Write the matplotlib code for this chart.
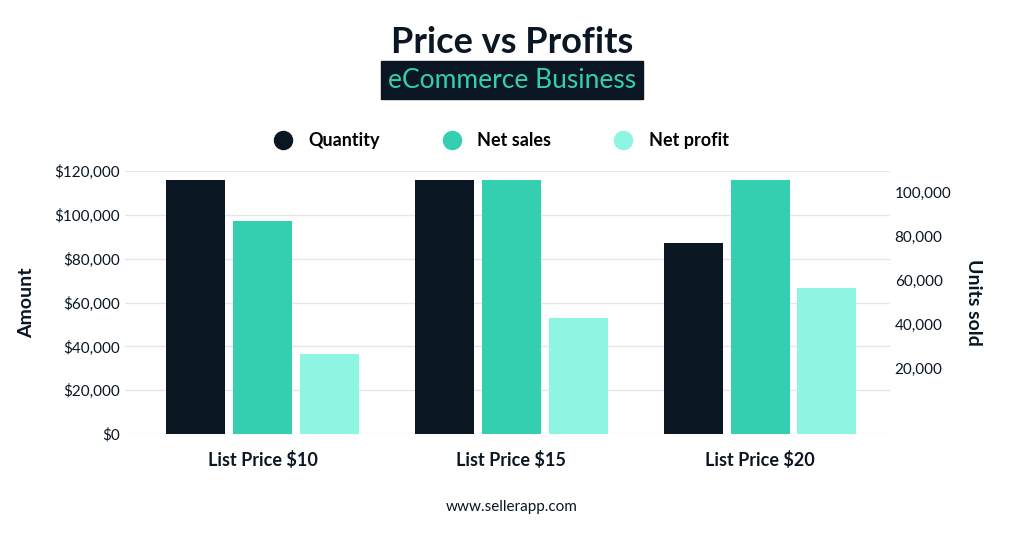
import matplotlib
matplotlib.use("Agg")
import matplotlib.pyplot as plt
from matplotlib.lines import Line2D
import numpy as np

categories = ["List Price $10", "List Price $15", "List Price $20"]
quantity = [105500, 105500, 76800]
net_sales = [97000, 116000, 116000]
net_profit = [36500, 53000, 66500]
left_ticks = [0, 20000, 40000, 60000, 80000, 100000, 120000]
right_ticks = [20000, 40000, 60000, 80000, 100000]

plt.rcParams["font.family"] = "Lato"
dark, green, light = "#0b1623", "#34cfb0", "#8ef5e3"
fig = plt.figure(figsize=(10.24, 5.36), dpi=100)
ax = fig.add_axes([0.122, 0.19, 0.747, 0.491])
ax2 = ax.twinx()
x = np.arange(len(categories))
w, off = 0.237, 0.269
ax.set_ylim(0, 120000)
ax2.set_ylim(-10000, 109545)
base = ax2.get_ylim()[0]
ax2.bar(x - off, [q - base for q in quantity], w, bottom=base, color=dark, zorder=3)
ax.bar(x, net_sales, w, color=green, zorder=3)
ax.bar(x + off, net_profit, w, color=light, zorder=3)
ax.set_xlim(-0.554, 2.522)
ax.set_yticks(left_ticks)
ax.set_yticklabels([f"${v:,}" for v in left_ticks], fontsize=11, color=dark)
ax2.set_yticks(right_ticks)
ax2.set_yticklabels([f"{v:,}" for v in right_ticks], fontsize=11, color=dark)
ax.set_xticks(x)
ax.set_xticklabels(categories, fontsize=13, fontweight="bold", color=dark)
ax.grid(axis="y", color="#e6e6e6", lw=1, zorder=0)
ax.set_axisbelow(True)
for a in (ax, ax2):
    for s in a.spines.values():
        s.set_visible(False)
    a.tick_params(length=0)
ax.tick_params(axis="x", pad=12)
ax.set_ylabel("Amount", fontsize=14, fontweight="bold", color=dark, labelpad=14)
ax2.set_ylabel("Units sold", fontsize=14, fontweight="bold", color=dark, rotation=-90, labelpad=22)

fig.text(0.5, 0.92, "Price vs Profits", ha="center", va="center", fontsize=26, fontweight="bold", color=dark)
fig.text(0.5, 0.85, "eCommerce Business", ha="center", va="center", fontsize=19, color=green,
         bbox=dict(boxstyle="square,pad=0.25", fc=dark, ec=dark))
handles = [Line2D([], [], marker="o", ls="", ms=13, color=c) for c in (dark, green, light)]
fig.legend(handles, ["Quantity", "Net sales", "Net profit"], loc="center", bbox_to_anchor=(0.485, 0.737),
           ncol=3, frameon=False, prop={"weight": "bold", "size": 13}, columnspacing=3, handletextpad=0.4)
fig.text(0.5, 0.054, "www.sellerapp.com", ha="center", va="center", fontsize=11, color=dark)
fig.savefig("out.png", dpi=100, facecolor="white")
